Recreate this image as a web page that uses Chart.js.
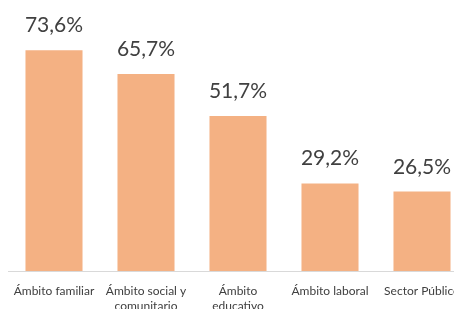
<!DOCTYPE html>
<html>
<head>
	<meta charset="utf-8">
	<title>Ámbitos</title>
	<style>
		html, body { margin: 0; padding: 0; background: #fff; overflow: hidden; width: 454px; height: 309px; }
		#wrap { position: relative; width: 470px; height: 330px; }
	</style>
</head>
<body>
	<div id="wrap"><canvas id="chart"></canvas></div>
	<script src="https://cdn.jsdelivr.net/npm/chart.js"></script>
	<script>
		// datos del gráfico
		const categorias = [
			["Ámbito familiar"],
			["Ámbito social y", "comunitario"],
			["Ámbito", "educativo"],
			["Ámbito laboral"],
			["Sector Público"]
		];
		const porcentajes = [73.6, 65.7, 51.7, 29.2, 26.5];

		// etiquetas encima de cada barra
		const etiquetasBarras = {
			id: 'etiquetasBarras',
			afterDatasetsDraw(chart) {
				const ctx = chart.ctx;
				const meta = chart.getDatasetMeta(0);
				ctx.save();
				ctx.font = '21px Lato';
				ctx.fillStyle = '#404040';
				ctx.textAlign = 'center';
				ctx.textBaseline = 'alphabetic';
				meta.data.forEach((bar, i) => {
					const txt = porcentajes[i].toFixed(1).replace('.', ',') + '%';
					ctx.fillText(txt, bar.x, bar.y - 18);
				});
				ctx.restore();
			}
		};

		new Chart(document.getElementById('chart'), {
			type: 'bar',
			data: {
				labels: categorias,
				datasets: [{
					data: porcentajes,
					backgroundColor: '#F4B183',
					borderWidth: 0,
					categoryPercentage: 1,
					barPercentage: 0.62
				}]
			},
			options: {
				responsive: true,
				maintainAspectRatio: false,
				animation: false,
				layout: { padding: { left: 8, right: 2, top: 16, bottom: 0 } },
				plugins: { legend: { display: false }, tooltip: { enabled: false } },
				scales: {
					x: {
						grid: { display: false },
						border: { display: true, color: '#D9D9D9', width: 1 },
						afterFit(scale) { scale.height = 59; },
						ticks: {
							color: '#404040',
							font: { family: 'Lato', size: 12, lineHeight: 1.3 },
							padding: 4,
							maxRotation: 0,
							autoSkip: false
						}
					},
					y: {
						display: false,
						min: 0,
						max: 85
					}
				}
			},
			plugins: [etiquetasBarras]
		});
	</script>
</body>
</html>
